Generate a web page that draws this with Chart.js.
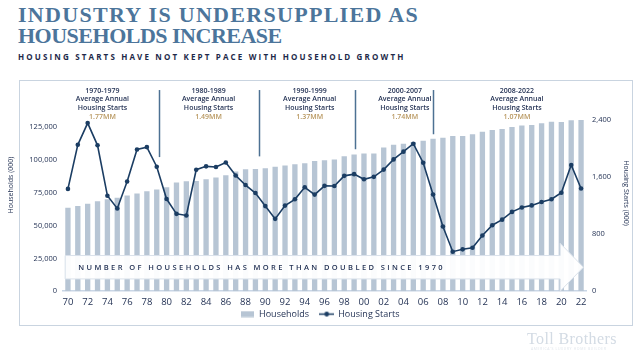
<!DOCTYPE html>
<html>
<head>
<meta charset="utf-8">
<script src="https://cdn.jsdelivr.net/npm/chart.js@4.4.0/dist/chart.umd.min.js"></script>
<style>
  html, body { margin: 0; padding: 0; background: #fff; }
  body { width: 640px; height: 351px; position: relative; overflow: hidden; font-family: "Open Sans", sans-serif; }
  .title { position: absolute; left: 18px; top: 5px; font-family: "Liberation Serif", serif; font-weight: bold; font-size: 22px; line-height: 20.6px; color: #4c759b; white-space: nowrap; }
  .title .l1 { letter-spacing: 1.3px; }
  .title .l2 { letter-spacing: -0.5px; }
  .subtitle { position: absolute; left: 18px; top: 53px; font-size: 8px; line-height: 8px; font-weight: 700; letter-spacing: 2.15px; color: #1e2a4a; white-space: nowrap; }
  .frame { position: absolute; left: 19px; top: 79.5px; width: 612px; height: 244.5px; border: 1.5px solid #c9d4e0; }
  .chart-wrap { position: absolute; left: 0; top: 80px; width: 640px; height: 260px; }
  .logo { position: absolute; left: 527px; top: 331px; font-family: "Liberation Serif", serif; font-size: 16px; line-height: 16px; letter-spacing: 0.4px; color: #d3dbe4; white-space: nowrap; }
  .tag { position: absolute; left: 531px; top: 346px; font-size: 3.5px; letter-spacing: 0.6px; color: #e1e6ec; white-space: nowrap; }
</style>
</head>
<body>
<div class="title"><div class="l1">INDUSTRY IS UNDERSUPPLIED AS</div><div class="l2">HOUSEHOLDS INCREASE</div></div>
<div class="subtitle">HOUSING STARTS HAVE NOT KEPT PACE WITH HOUSEHOLD GROWTH</div>
<div class="frame"></div>
<div class="chart-wrap"><canvas id="chart" width="640" height="260"></canvas></div>
<div class="logo">Toll Brothers</div>
<div class="tag">AMERICA'S LUXURY HOME BUILDER</div>
<script>
// 연도 (2자리)
const YEARS = ['70','71','72','73','74','75','76','77','78','79',
  '80','81','82','83','84','85','86','87','88','89',
  '90','91','92','93','94','95','96','97','98','99',
  '00','01','02','03','04','05','06','07','08','09',
  '10','11','12','13','14','15','16','17','18','19',
  '20','21','22'];

// Households (000)
const HOUSEHOLDS = [63700, 64900, 66700, 68500, 70000, 71300, 72900, 74400, 76200, 77500,
  79200, 82800, 83800, 84000, 85300, 86600, 88400, 91200, 93000, 93200,
  93800, 94800, 95800, 96800, 97600, 99300, 99900, 100400, 102900, 104200,
  105000, 105000, 109600, 111600, 112400, 113700, 114700, 116200, 117000, 118300,
  118300, 119600, 121500, 122800, 123600, 125100, 126400, 126700, 128000, 129200,
  129000, 130300, 130500];

// Housing Starts (000)
const STARTS = [1434, 2052, 2357, 2045, 1338, 1160, 1538, 1987, 2020, 1745,
  1292, 1084, 1062, 1703, 1750, 1742, 1805, 1621, 1488, 1376,
  1193, 1014, 1200, 1288, 1457, 1354, 1477, 1474, 1617, 1641,
  1569, 1603, 1705, 1848, 1956, 2068, 1801, 1355, 906, 554,
  587, 609, 781, 925, 1003, 1112, 1174, 1203, 1250, 1290,
  1380, 1770, 1440];

const LEFT_TICKS = [0, 25000, 50000, 75000, 100000, 125000];
const RIGHT_TICKS = [0, 800, 1600, 2400];

const PERIODS = ['1970-1979', '1980-1989', '1990-1999', '2000-2007', '2008-2022'];
const PERIOD_AVG = ['1.77MM', '1.49MM', '1.37MM', '1.74MM', '1.07MM'];
const BANNER_TEXT = 'NUMBER OF HOUSEHOLDS HAS MORE THAN DOUBLED SINCE 1970';

// 주석 위치 (카테고리 인덱스 / 우측축 값)
const PERIOD_AT = [3.5, 14.25, 24.5, 34.14, 45.5];
const DIVIDER_AT = [9.2, 19.35, 29.1, 37.0];
const DIVIDER_END = [1880, 1890, 1990, 2200];
const DIVIDER_TOP = 2820;

const NAVY = '#1e2d50';
const LINE = '#1b3d63';
const BAR = '#b7c5d4';
const GOLD = '#b8975f';
const FONT = '"Open Sans", sans-serif';
const NBSP4 = '\u00a0\u00a0\u00a0\u00a0';

function fmt(v) {
  return String(v).replace(/\B(?=(\d{3})+(?!\d))/g, ',');
}

function legendIcon(kind) {
  const c = document.createElement('canvas');
  c.width = kind === 'bar' ? 13 : 15;
  c.height = 7;
  const g = c.getContext('2d');
  if (kind === 'bar') {
    g.fillStyle = BAR;
    g.fillRect(0, 0.5, 13, 6);
  } else {
    g.strokeStyle = LINE;
    g.lineWidth = 1.5;
    g.beginPath(); g.moveTo(0, 3.5); g.lineTo(15, 3.5); g.stroke();
    g.fillStyle = LINE;
    g.beginPath(); g.arc(7.5, 3.5, 2.4, 0, Math.PI * 2); g.fill();
  }
  return c;
}

function spacedText(ctx, text, x, y, spacing) {
  let cx = x;
  for (const ch of text) {
    ctx.fillText(ch, cx, y);
    cx += ctx.measureText(ch).width + spacing;
  }
}

// 화살표 배너: 막대 위, 선 아래
const bannerPlugin = {
  id: 'banner',
  beforeDatasetDraw(chart, args) {
    if (args.index !== 1) return;
    const { ctx } = chart;
    const xs = chart.scales.x, ys = chart.scales.yS;
    const x0 = xs.getPixelForValue(-0.28);
    const xn = xs.getPixelForValue(49.88);
    const xt = xs.getPixelForValue(52.24);
    const bt = ys.getPixelForValue(500), bb = ys.getPixelForValue(172);
    const ht = ys.getPixelForValue(672), hb = ys.getPixelForValue(0);
    const mid = (bt + bb) / 2;
    ctx.save();
    ctx.beginPath();
    ctx.moveTo(x0, bt);
    ctx.lineTo(xn, bt);
    ctx.lineTo(xn, ht);
    ctx.lineTo(xt, mid);
    ctx.lineTo(xn, hb);
    ctx.lineTo(xn, bb);
    ctx.lineTo(x0, bb);
    ctx.closePath();
    ctx.fillStyle = 'rgba(255,255,255,0.94)';
    ctx.fill();
    ctx.strokeStyle = '#dae2eb';
    ctx.lineWidth = 1;
    ctx.stroke();
    ctx.fillStyle = NAVY;
    ctx.font = '600 7.5px ' + FONT;
    ctx.textBaseline = 'middle';
    ctx.textAlign = 'left';
    spacedText(ctx, BANNER_TEXT, x0 + 13, mid + 0.5, 2.4);
    ctx.restore();
  }
};

// 기간 구분선, 기간 라벨, 축 제목
const periodPlugin = {
  id: 'periods',
  afterDraw(chart) {
    const { ctx, chartArea } = chart;
    const xs = chart.scales.x, ys = chart.scales.yS;
    ctx.save();
    ctx.strokeStyle = '#4d7193';
    ctx.lineWidth = 1.5;
    DIVIDER_AT.forEach((d, i) => {
      const px = Math.round(xs.getPixelForValue(d)) + 0.5;
      ctx.beginPath();
      ctx.moveTo(px, ys.getPixelForValue(DIVIDER_TOP));
      ctx.lineTo(px, ys.getPixelForValue(DIVIDER_END[i]));
      ctx.stroke();
    });
    ctx.textAlign = 'center';
    ctx.textBaseline = 'middle';
    ctx.font = '600 7px ' + FONT;
    PERIODS.forEach((p, i) => {
      const px = xs.getPixelForValue(PERIOD_AT[i]);
      const y0 = chartArea.top - 29.3;
      ctx.fillStyle = NAVY;
      ctx.fillText(p, px, y0);
      ctx.fillText('Average Annual', px, y0 + 8.7);
      ctx.fillText('Housing Starts', px, y0 + 17.4);
      ctx.fillStyle = GOLD;
      ctx.fillText(PERIOD_AVG[i], px, y0 + 26.1);
    });
    // 축 제목
    ctx.fillStyle = NAVY;
    ctx.font = '7px ' + FONT;
    ctx.save();
    ctx.translate(11, 105);
    ctx.rotate(-Math.PI / 2);
    ctx.fillText('Households (000)', 0, 0);
    ctx.restore();
    ctx.save();
    ctx.translate(626, 113);
    ctx.rotate(Math.PI / 2);
    ctx.fillText('Housing Starts (000)', 0, 0);
    ctx.restore();
    ctx.restore();
  }
};

const tickFont = { family: FONT, size: 7.5 };

new Chart(document.getElementById('chart'), {
  type: 'bar',
  data: {
    labels: YEARS,
    datasets: [
      {
        type: 'bar',
        label: 'Households',
        data: HOUSEHOLDS,
        yAxisID: 'y',
        backgroundColor: BAR,
        categoryPercentage: 1,
        barPercentage: 0.54,
        order: 2,
      },
      {
        type: 'line',
        label: 'Housing Starts',
        data: STARTS,
        yAxisID: 'yS',
        borderColor: LINE,
        backgroundColor: LINE,
        borderWidth: 1.6,
        pointRadius: 2.3,
        pointBorderWidth: 0,
        tension: 0,
        order: 1,
      },
    ],
  },
  options: {
    responsive: false,
    animation: false,
    devicePixelRatio: 1,
    layout: { padding: { top: 40, left: 0, right: 0, bottom: 11.4 } },
    plugins: {
      tooltip: { enabled: false },
      legend: {
        position: 'bottom',
        labels: {
          usePointStyle: true,
          pointStyleWidth: 14,
          boxHeight: 7,
          padding: 1.4,
          color: NAVY,
          font: { family: FONT, size: 9 },
          generateLabels: () => [
            { text: 'Households' + NBSP4, pointStyle: legendIcon('bar'), fontColor: NAVY, datasetIndex: 0 },
            { text: 'Housing Starts', pointStyle: legendIcon('line'), fontColor: NAVY, datasetIndex: 1 },
          ],
        },
      },
    },
    scales: {
      x: {
        grid: { display: false, drawTicks: false },
        border: { display: true, color: '#c9d6e6', width: 1.5 },
        afterFit: (s) => { s.height = 17; },
        ticks: {
          autoSkip: false,
          maxRotation: 0,
          padding: 5.5,
          color: NAVY,
          font: { family: FONT, size: 9.5 },
          callback: (v, i) => (i % 2 === 0 ? YEARS[i] : ''),
        },
      },
      y: {
        position: 'left',
        min: 0,
        max: 130500,
        grid: { display: false, drawTicks: false },
        border: { display: false },
        afterBuildTicks: (s) => { s.ticks = LEFT_TICKS.map((v) => ({ value: v })); },
        afterFit: (s) => { s.width = 63; },
        ticks: { padding: 6, color: NAVY, font: tickFont, callback: (v) => fmt(v) },
      },
      yS: {
        position: 'right',
        min: 0,
        max: 2400,
        grid: { display: false, drawTicks: false },
        border: { display: false },
        afterBuildTicks: (s) => { s.ticks = RIGHT_TICKS.map((v) => ({ value: v })); },
        afterFit: (s) => { s.width = 54; },
        ticks: { padding: 6, color: NAVY, font: tickFont, callback: (v) => fmt(v) },
      },
    },
  },
  plugins: [bannerPlugin, periodPlugin],
});
</script>
</body>
</html>
